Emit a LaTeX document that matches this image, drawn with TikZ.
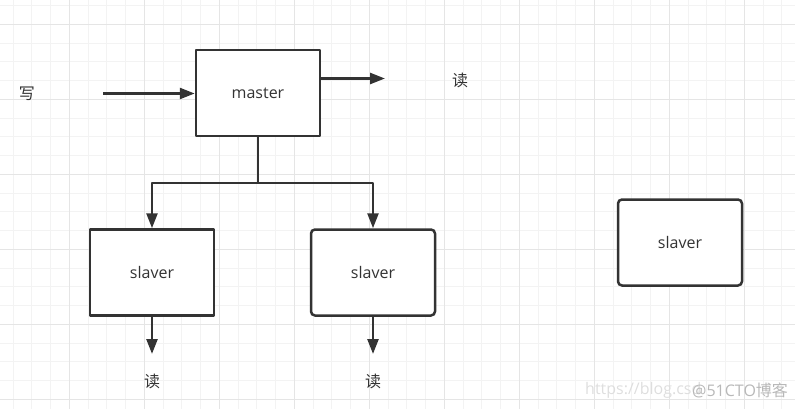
\documentclass[tikz,border=0pt]{standalone}
\usepackage{fontspec}
\setmainfont{Open Sans}
\newfontfamily\cjk{Noto Sans CJK SC}
\usetikzlibrary{arrows.meta}
\definecolor{lineclr}{HTML}{333333}
\definecolor{minorclr}{HTML}{F3F3F3}
\definecolor{majorclr}{HTML}{E5E5E5}

\begin{document}
\begin{tikzpicture}[x=1pt, y=-1pt, font=\fontsize{16}{18}\selectfont, line join=round,
	box/.style={draw=lineclr, line width=2.5pt, fill=white, text=lineclr, minimum width=124pt, minimum height=86pt, inner sep=0pt},
	rbox/.style={box, rounded corners=4pt},
	link/.style={draw=lineclr, line width=2.5pt, -{Triangle[length=15pt,width=11pt]}},
	lbl/.style={text=lineclr, font=\cjk\fontsize{16}{18}\selectfont}]
	\useasboundingbox (0,0) rectangle (795,409);
	% grid
	\foreach \i in {0,...,43}
	\draw[minorclr, line width=1pt] ({-5.7+18.75*\i},0) -- ({-5.7+18.75*\i},409);
	\foreach \i in {0,...,22}
	\draw[minorclr, line width=1pt] (0,{5.55+18.75*\i}) -- (795,{5.55+18.75*\i});
	\foreach \i in {0,...,10}
	\draw[majorclr, line width=1pt] ({-5.7+75*\i},0) -- ({-5.7+75*\i},409);
	\foreach \i in {0,...,5}
	\draw[majorclr, line width=1pt] (0,{24.3+75*\i}) -- (795,{24.3+75*\i});
	% boxes
	\node[box] (master) at (258,93) {master};
	\node[box] (s1) at (152,272.5) {slaver};
	\node[rbox] (s2) at (373,272.5) {slaver};
	\node[rbox] (s3) at (680,242.5) {slaver};
	% labels
	\node[lbl] (w) at (27,94) {写};
	\node[lbl] (rm) at (460,80) {读};
	\node[lbl] (r1) at (152,381) {读};
	\node[lbl] (r2) at (373,381) {读};
	\coordinate (wa) at (103,93.5);
	\coordinate (ma) at (385,78.5);
	\coordinate (split) at (258,183);
	\coordinate (a1) at (152,354);
	\coordinate (a2) at (373,354);
	% arrows
	\draw[link] (wa) -- (master.west |- wa);
	\draw[link] (master.east |- ma) -- (ma);
	\draw[link] (master.south) -- (split) -| (s1.north);
	\draw[link] (split) -| (s2.north);
	\draw[link] (s1.south) -- (a1);
	\draw[link] (s2.south) -- (a2);
	% watermark
	\node[anchor=west, text=black!13, inner sep=0pt] (url) at (585,390) {https://blog.csd};
	\node[anchor=west, text=black!28, inner sep=0pt] (wm) at (692,390) {@51CTO{\cjk 博客}};
\end{tikzpicture}
\end{document}
